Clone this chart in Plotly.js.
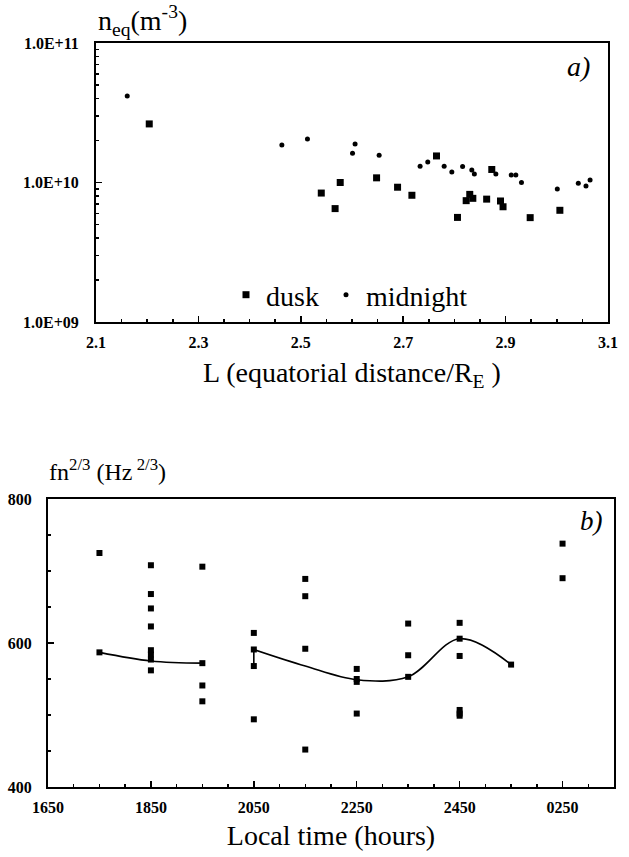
<!DOCTYPE html>
<html>
<head>
<meta charset="utf-8">
<script src="https://cdn.plot.ly/plotly-3.0.1.min.js"></script>
<style>
  html, body { margin: 0; padding: 0; background: #fff; }
  #chart { width: 629px; height: 857px; }
</style>
</head>
<body>
<div id="chart"></div>
<script>
// ---- Panel a): equatorial density vs L ----
const duskL = [2.204, 2.540, 2.567, 2.577, 2.648, 2.689, 2.717, 2.765, 2.806, 2.823, 2.830, 2.836, 2.863, 2.873, 2.890, 2.895, 2.948, 3.006];
const duskN = [2.63e10, 8.4e9, 6.5e9, 1.0e10, 1.08e10, 9.25e9, 8.1e9, 1.55e10, 5.62e9, 7.41e9, 8.22e9, 7.7e9, 7.6e9, 1.24e10, 7.37e9, 6.7e9, 5.6e9, 6.32e9];
const midL = [2.161, 2.463, 2.513, 2.601, 2.606, 2.653, 2.733, 2.748, 2.780, 2.795, 2.816, 2.834, 2.839, 2.881, 2.911, 2.920, 2.931, 3.001, 3.042, 3.057, 3.065];
const midN = [4.17e10, 1.86e10, 2.05e10, 1.62e10, 1.89e10, 1.57e10, 1.31e10, 1.40e10, 1.31e10, 1.19e10, 1.30e10, 1.23e10, 1.15e10, 1.15e10, 1.13e10, 1.13e10, 1.0e10, 8.97e9, 9.87e9, 9.44e9, 1.04e10];
const aXTicks = [2.1, 2.3, 2.5, 2.7, 2.9, 3.1];
const aXTickText = ["2.1", "2.3", "2.5", "2.7", "2.9", "3.1"];
const aYTicks = [1e9, 1e10, 1e11];
const aYTickText = ["1.0E+09", "1.0E+10", "1.0E+11"];

// ---- Panel b): fn^(2/3) vs local time ----
const bTime = [1750, 1750,
  1850, 1850, 1850, 1850, 1850, 1850, 1850, 1850,
  1950, 1950, 1950, 1950,
  2050, 2050, 2050, 2050,
  2150, 2150, 2150, 2150,
  2250, 2250, 2250, 2250,
  2350, 2350, 2350,
  2450, 2450, 2450, 2450, 2450, 2450,
  2550,
  2650, 2650];
const bValue = [725, 587,
  708, 668, 648, 623, 590, 584, 577, 562,
  706, 572, 541, 519,
  614, 591, 568, 494,
  689, 665, 592, 452,
  564, 550, 546, 502,
  627, 583, 553,
  628, 606, 582, 507, 502, 499,
  570,
  738, 690];
const fit1Time = [1750, 1850, 1950];
const fit1Value = [587, 575, 572];
const fit2Time = [2050, 2050];
const fit2Value = [568, 591];
const fit3Time = [2050, 2150, 2250, 2350, 2450, 2550];
const fit3Value = [591, 568, 549, 553, 606, 570];
const bXTicks = [1650, 1850, 2050, 2250, 2450, 2650];
const bXTickText = ["1650", "1850", "2050", "2250", "2450", "0250"];
const bYTicks = [400, 600, 800];

const W = 629, H = 857;
const px = x => x / W;
const py = y => 1 - y / H;
const serif = "'Liberation Serif', 'DejaVu Serif', serif";

const traces = [
  { type: "scatter", mode: "markers", name: "dusk", x: duskL, y: duskN,
    xaxis: "x", yaxis: "y", legendwidth: 55,
    marker: { symbol: "square", size: 7, color: "#000" } },
  { type: "scatter", mode: "markers", name: "midnight", x: midL, y: midN,
    xaxis: "x", yaxis: "y", legendwidth: 115,
    marker: { symbol: "circle", size: 5, color: "#000" } },
  { type: "scatter", mode: "markers", name: "fn", x: bTime, y: bValue,
    xaxis: "x2", yaxis: "y2", showlegend: false,
    marker: { symbol: "square", size: 6, color: "#000" } },
  { type: "scatter", mode: "lines", x: fit1Time, y: fit1Value, xaxis: "x2", yaxis: "y2",
    showlegend: false, line: { color: "#000", width: 1.6, shape: "spline" } },
  { type: "scatter", mode: "lines", x: fit2Time, y: fit2Value, xaxis: "x2", yaxis: "y2",
    showlegend: false, line: { color: "#000", width: 1.6 } },
  { type: "scatter", mode: "lines", x: fit3Time, y: fit3Value, xaxis: "x2", yaxis: "y2",
    showlegend: false, line: { color: "#000", width: 1.6, shape: "spline", smoothing: 1 } }
];

const axisCommon = {
  showline: true, linecolor: "#000", linewidth: 2, mirror: true,
  showgrid: false, zeroline: false, ticks: "inside", ticklen: 6, tickwidth: 1.5,
  tickcolor: "#000"
};

const layout = {
  width: W, height: H,
  margin: { l: 0, r: 0, t: 0, b: 0 },
  paper_bgcolor: "#fff", plot_bgcolor: "#fff",
  font: { family: serif, color: "#000" },
  showlegend: true,
  legend: {
    orientation: "h", x: px(226), xanchor: "left", y: py(295), yanchor: "middle",
    font: { family: serif, size: 28, color: "#000" }, bgcolor: "rgba(0,0,0,0)",
    itemwidth: 30, tracegroupgap: 0
  },
  xaxis: Object.assign({}, axisCommon, {
    domain: [px(96), px(608)], anchor: "y", range: [2.1, 3.1],
    tickmode: "array", tickvals: aXTicks, ticktext: aXTickText,
    tickfont: { family: serif, size: 16, color: "#000", weight: "bold" },
    ticklabelstandoff: 5,
    minor: { dtick: 0.05, tick0: 2.1, ticks: "inside", ticklen: 3, tickcolor: "#000" },
    title: { text: "L (equatorial distance/R<sub>E</sub> )", font: { family: serif, size: 28, color: "#000" }, standoff: 12 }
  }),
  yaxis: Object.assign({}, axisCommon, {
    domain: [py(322), py(43)], anchor: "x", type: "log", range: [9, 11],
    tickmode: "array", tickvals: aYTicks, ticktext: aYTickText,
    tickfont: { family: serif, size: 16, color: "#000", weight: "bold" },
    ticklabelstandoff: 12,
    minor: { dtick: "D1", ticks: "inside", ticklen: 3, tickcolor: "#000" }
  }),
  xaxis2: Object.assign({}, axisCommon, {
    domain: [px(48), px(614)], anchor: "y2", range: [1650, 2750],
    tickmode: "array", tickvals: bXTicks, ticktext: bXTickText,
    tickfont: { family: serif, size: 16, color: "#000", weight: "bold" },
    ticklabelstandoff: 5,
    minor: { dtick: 50, tick0: 1650, ticks: "inside", ticklen: 3, tickcolor: "#000" },
    title: { text: "Local time (hours)", font: { family: serif, size: 28, color: "#000" }, standoff: 10 }
  }),
  yaxis2: Object.assign({}, axisCommon, {
    domain: [py(787), py(499)], anchor: "x2", range: [400, 800],
    tickmode: "array", tickvals: bYTicks,
    tickfont: { family: serif, size: 16, color: "#000", weight: "bold" },
    ticklabelstandoff: 11,
    minor: { dtick: 50, tick0: 400, ticks: "inside", ticklen: 3, tickcolor: "#000" }
  }),
  annotations: [
    { xref: "paper", yref: "paper", x: px(96), y: py(42), xanchor: "left", yanchor: "bottom",
      showarrow: false, text: "n<sub>eq</sub>(m<sup>-3</sup>)",
      font: { family: serif, size: 28, color: "#000" } },
    { xref: "paper", yref: "paper", x: px(592), y: py(66), xanchor: "right", yanchor: "middle",
      showarrow: false, text: "<i>a)</i>", font: { family: serif, size: 28, color: "#000" } },
    { xref: "paper", yref: "paper", x: px(47), y: py(487), xanchor: "left", yanchor: "bottom",
      showarrow: false, text: "fn<sup>2/3</sup> (Hz<sup> 2/3</sup>)",
      font: { family: serif, size: 24, color: "#000" } },
    { xref: "paper", yref: "paper", x: px(605), y: py(521), xanchor: "right", yanchor: "middle",
      showarrow: false, text: "<i>b)</i>", font: { family: serif, size: 27, color: "#000" } }
  ]
};

Plotly.newPlot("chart", traces, layout, { staticPlot: true, displayModeBar: false });
</script>
</body>
</html>
